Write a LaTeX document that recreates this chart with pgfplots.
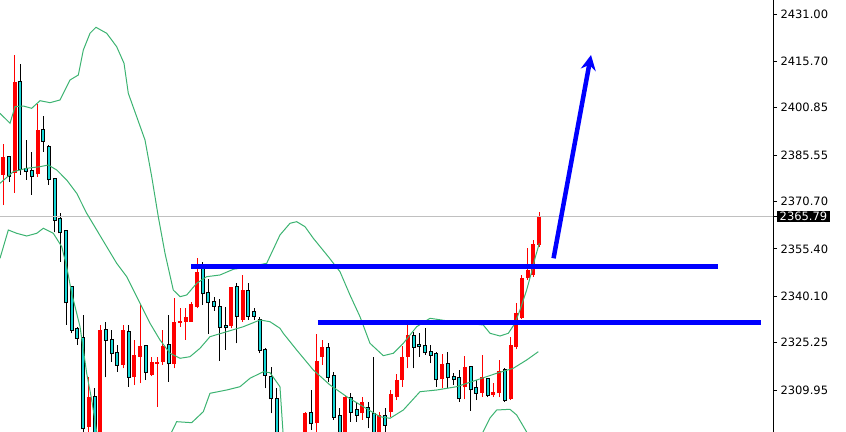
\documentclass[border=0pt]{standalone}
\usepackage{pgfplots}
\pgfplotsset{compat=1.18}
\usepackage{pgfplotstable}
\usepackage{fontspec}
\setmainfont{DejaVu Sans}
\usetikzlibrary{arrows.meta}

\definecolor{barup}{RGB}{255,0,0}
\definecolor{bardn}{RGB}{20,215,215}
\definecolor{band}{RGB}{60,179,113}
\definecolor{bidline}{RGB}{192,192,192}

% bars, index i = bar number from the left edge
\pgfplotstableread{
i  O       H       L       C
1  2379.17 2389.05 2369.51 2384.87
3  2379.91 2417.80 2373.47 2409.21
7  2379.40 2401.93 2378.62 2393.66
16 2298.14 2314.23 2294.50 2307.80
18 2290.64 2330.88 2284.20 2329.27
22 2318.00 2330.88 2316.94 2329.27
24 2314.23 2326.05 2311.56 2321.22
25 2320.67 2337.32 2312.11 2324.12
27 2314.78 2320.67 2314.46 2319.07
28 2318.32 2320.67 2304.58 2319.07
29 2319.07 2329.27 2318.00 2324.12
31 2318.32 2339.47 2316.94 2331.94
32 2331.62 2336.26 2330.33 2332.17
33 2331.94 2336.26 2326.05 2333.55
34 2331.94 2338.38 2331.94 2337.64
35 2336.77 2352.35 2336.26 2348.04
41 2330.56 2343.21 2329.82 2343.21
43 2332.49 2346.98 2331.94 2342.15
51 2283.55 2291.28 2279.37 2289.03
53 2281.62 2295.14 2280.33 2293.86
54 2293.86 2302.97 2292.25 2302.45
56 2299.23 2327.89 2295.14 2319.29
57 2320.67 2326.05 2318.00 2323.89
61 2293.86 2308.12 2292.25 2307.80
64 2302.45 2307.80 2300.30 2306.19
67 2294.50 2302.97 2293.21 2301.90
69 2302.97 2309.95 2301.36 2308.57
70 2307.80 2315.10 2306.73 2313.17
71 2313.17 2324.12 2311.02 2320.67
72 2320.67 2330.88 2316.94 2327.66
78 2313.40 2321.54 2310.50 2318.32
82 2310.82 2320.90 2306.96 2317.45
85 2309.08 2321.22 2307.80 2314.04
87 2308.34 2312.30 2307.80 2309.41
88 2308.89 2319.61 2307.60 2316.07
90 2306.96 2327.02 2306.73 2324.28
91 2323.89 2337.87 2323.06 2334.65
92 2333.13 2346.98 2332.81 2346.11
93 2345.91 2355.57 2345.37 2348.59
94 2346.98 2358.24 2346.43 2356.86
95 2356.64 2367.36 2356.09 2365.79
}\upbars

\pgfplotstableread{
i  O       H       L       C
2  2384.87 2385.06 2377.01 2378.85
4  2409.01 2414.81 2379.17 2381.01
5  2381.10 2390.44 2377.56 2380.55
6  2380.46 2386.67 2372.73 2378.85
8  2393.66 2398.16 2386.67 2390.21
9  2388.09 2388.83 2375.95 2377.79
10 2377.79 2377.79 2360.72 2364.68
11 2365.01 2366.84 2351.26 2360.72
12 2361.14 2361.46 2330.88 2338.19
13 2343.21 2343.21 2328.21 2329.27
14 2329.59 2330.33 2324.44 2326.79
15 2326.79 2334.10 2295.14 2297.62
17 2307.80 2310.50 2287.42 2292.25
19 2329.27 2331.94 2314.04 2326.05
20 2326.05 2329.27 2319.07 2321.77
21 2321.77 2324.44 2315.84 2318.00
23 2328.72 2330.88 2311.02 2314.23
26 2324.12 2324.44 2313.17 2315.84
30 2324.44 2334.10 2312.63 2318.55
36 2350.20 2351.26 2337.32 2341.08
37 2341.28 2345.59 2327.98 2338.19
38 2338.38 2339.99 2335.48 2337.00
39 2336.77 2339.15 2319.39 2330.33
40 2330.56 2336.77 2322.83 2330.14
42 2343.21 2344.30 2324.99 2333.78
44 2341.92 2344.30 2332.49 2333.78
45 2335.16 2336.26 2332.49 2333.78
46 2332.49 2333.55 2321.77 2322.83
47 2322.83 2323.38 2310.50 2314.78
48 2314.23 2317.45 2302.45 2307.28
49 2306.96 2310.60 2289.03 2292.25
50 2292.25 2293.86 2280.98 2284.20
52 2289.03 2290.64 2277.76 2281.62
55 2302.45 2309.95 2297.08 2299.23
58 2323.57 2325.18 2312.63 2314.23
59 2314.46 2315.84 2300.30 2301.36
60 2301.58 2304.06 2292.25 2293.86
62 2307.47 2308.89 2299.75 2302.97
63 2303.51 2306.19 2299.75 2301.90
65 2304.06 2306.19 2297.62 2301.16
66 2302.13 2320.67 2292.25 2294.50
68 2301.58 2304.06 2295.47 2298.69
73 2327.34 2328.72 2316.94 2323.89
74 2324.28 2328.21 2320.67 2323.96
75 2324.12 2329.82 2321.22 2322.09
76 2322.28 2324.44 2318.55 2321.22
77 2321.54 2322.28 2311.02 2313.40
79 2318.32 2322.28 2310.50 2314.04
80 2314.04 2315.33 2311.56 2313.49
81 2313.72 2316.39 2306.19 2307.28
83 2317.26 2317.45 2303.29 2310.18
84 2310.50 2313.17 2306.73 2309.08
86 2313.49 2313.49 2307.60 2308.34
89 2316.39 2316.94 2306.09 2306.73
}\dnbars

% a candle part = an error bar with no line and no mark
\pgfplotsset{
  candle part/.style 2 args={draw=none, mark=none, forget plot,
    error bars/.cd, y dir=plus, y explicit, error mark=none,
    error bar style={draw=#1, solid, line width=#2, line cap=butt}},
}

\begin{document}
\begin{tikzpicture}
\useasboundingbox (0,0) rectangle (846bp,432bp);  % same size as the screenshot
\begin{axis}[
    at={(0,0)}, anchor=south west,
    scale only axis, width=773bp, height=432bp,
    xmin=0.42, xmax=136.04,
    ymin=2296.43, ymax=2435.51,
    axis x line=none,
    axis y line*=right,
    y axis line style={black, line width=1bp},
    ytick={2309.95,2325.25,2340.10,2355.40,2370.70,2385.55,2400.85,2415.70,2431.00},
    yticklabels={2309.95,2325.25,2340.10,2355.40,2370.70,2385.55,2400.85,2415.70,2431.00},
    extra y ticks={2365.79},
    extra y tick labels={2365.79},
    extra y tick style={yticklabel style={fill=black, text=white, inner xsep=2.5bp, inner ysep=1bp}},
    tick align=outside,
    major tick length=4bp,
    every tick/.style={black, line width=0.8bp},
    yticklabel style={font=\fontsize{11.5bp}{13bp}\selectfont, text=black},
  ]

% candles first, indicator lines are drawn over them
\addplot [candle part={barup}{1bp}]
  table [x=i, y=L, y error plus expr=\thisrow{H}-\thisrow{L}] {\upbars};
\addplot [candle part={barup}{4bp}]
  table [x=i, y=O, y error plus expr=\thisrow{C}-\thisrow{O}] {\upbars};

\addplot [candle part={black}{1bp}]
  table [x=i, y=L, y error plus expr=\thisrow{H}-\thisrow{L}] {\dnbars};
\addplot [candle part={black}{4bp}]
  table [x=i, y expr=\thisrow{C}-0.32, y error plus expr=\thisrow{O}-\thisrow{C}+0.64] {\dnbars};
\addplot [candle part={bardn}{2bp}]
  table [x=i, y=C, y error plus expr=\thisrow{O}-\thisrow{C}] {\dnbars};

% bid line
\addplot [bidline, line width=1bp] coordinates {(0.42,2365.79) (136.04,2365.79)};

% bollinger bands
\addplot [band, line width=1bp] coordinates {
(0.42,2399.03) (2.18,2395.81) (3.05,2401.16) (4.51,2401.38) (5.98,2400.64)
(7.44,2403.09) (9.19,2402.45) (10.95,2403.32) (12.70,2409.75) (14.16,2411.36)
(15.04,2419.41) (16.21,2424.79) (17.26,2426.72) (19.14,2424.79) (20.89,2420.48)
(22.18,2415.13) (22.93,2405.47) (24.40,2397.94) (25.86,2390.44) (27.04,2378.62)
(28.19,2365.75) (29.37,2353.96) (30.82,2342.15) (32.00,2339.99) (33.18,2340.54)
(34.93,2344.30) (36.68,2346.43) (39.02,2346.98) (41.35,2348.81) (44.28,2349.65)
(47.21,2350.74) (49.54,2359.85) (51.30,2363.62) (52.47,2364.14) (53.93,2362.53)
(55.39,2358.79) (58.02,2352.87) (60.07,2348.04) (61.82,2340.54) (63.58,2333.55)
(65.33,2324.99) (67.67,2321.00) (69.42,2321.77) (71.18,2324.99) (73.53,2330.33)
(75.86,2333.04) (80.25,2331.84) (85.21,2330.88) (86.39,2328.21) (88.14,2327.34)
(89.60,2328.21) (90.77,2331.43) (91.65,2335.71) (92.82,2342.15) (93.70,2348.04)
(94.28,2352.35) (95.04,2357.18)};
\addplot [band, line width=1bp] coordinates {
(0.42,2376.50) (2.75,2380.23) (5.11,2381.33) (7.44,2381.84) (8.89,2382.39)
(10.37,2380.78) (12.12,2377.56) (13.88,2373.28) (15.63,2366.84) (17.39,2361.46)
(19.14,2356.09) (20.89,2350.74) (22.65,2346.43) (24.98,2337.87) (26.74,2331.43)
(28.49,2326.05) (30.25,2321.77) (32.00,2320.16) (33.75,2320.67) (35.51,2323.38)
(37.26,2327.11) (40.19,2328.72) (43.11,2330.33) (46.04,2332.49) (47.79,2331.94)
(49.54,2329.82) (50.12,2328.21) (52.47,2322.83) (55.39,2316.39) (58.32,2311.56)
(61.25,2307.80) (64.16,2304.58) (67.09,2301.36) (68.84,2300.84) (71.18,2303.51)
(74.11,2309.41) (77.04,2309.95) (80.54,2311.02) (84.05,2313.17) (87.56,2315.33)
(90.47,2316.94) (92.82,2319.61) (94.86,2322.28)};
\addplot [band, line width=1bp] coordinates {
(0.42,2352.35) (1.88,2361.46) (3.35,2360.40) (5.11,2359.53) (6.86,2360.40)
(8.02,2362.01) (9.77,2360.40) (11.25,2356.09) (12.12,2349.65) (13.00,2341.08)
(14.46,2330.33) (15.63,2315.33) (16.51,2306.73) (17.39,2296.43) (19.72,2284.20)
(23.23,2277.76) (28.49,2284.20) (30.54,2296.43) (31.42,2299.75) (34.05,2299.43)
(36.09,2302.97) (37.26,2308.89) (40.19,2309.95) (42.53,2311.02) (44.28,2313.72)
(46.61,2315.84) (47.79,2315.52) (49.54,2311.02) (50.07,2296.43) (51.30,2287.42)
(61.82,2268.10) (74.10,2274.50) (82.90,2287.42) (85.16,2296.43) (86.39,2300.94)
(87.56,2303.51) (89.89,2303.74) (91.07,2301.90) (92.82,2296.43) (94.28,2290.64)};

% levels and arrow
\addplot [blue, line width=5.5bp] coordinates {(33.93,2349.71) (126.39,2349.71)};
\addplot [blue, line width=5.5bp] coordinates {(56.21,2331.74) (133.95,2331.74)};
\addplot [blue, line width=4.5bp, -{Stealth[length=15bp, width=15bp]}]
  coordinates {(97.54,2352.35) (104.11,2417.80)};
\end{axis}
\end{tikzpicture}
\end{document}
